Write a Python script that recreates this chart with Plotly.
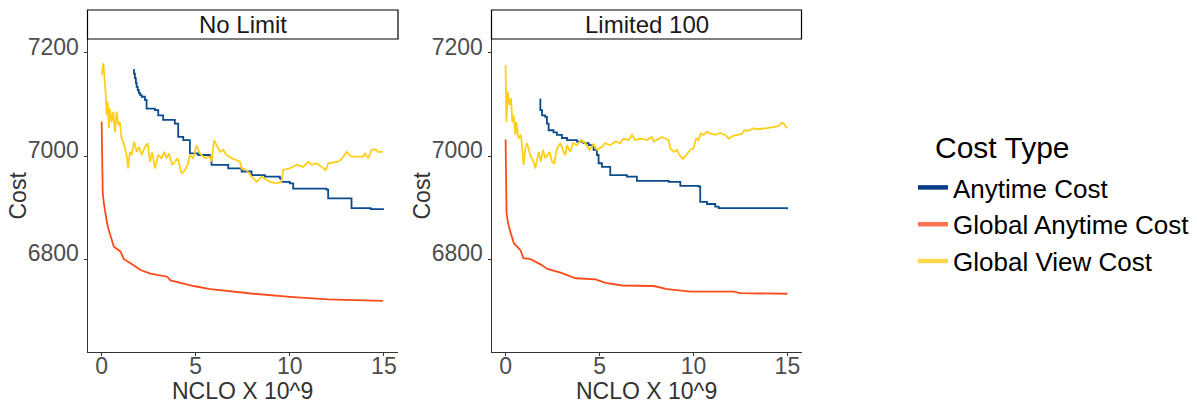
import plotly.graph_objects as go
from plotly.subplots import make_subplots

# ---------------- data ----------------
# Panel "No Limit"
nl_any_x = [1.68, 1.72, 1.77, 1.82, 1.86, 1.92, 1.98, 2.05, 2.13, 2.30, 2.39, 2.83, 3.01, 3.27, 3.89,
            4.07, 4.34, 4.69, 5.13, 5.75, 5.84, 6.73, 7.44, 7.97, 8.68, 9.47, 9.56, 10.00, 10.18,
            11.95, 12.04, 13.28, 14.30, 15.00]
nl_any_y = [7167, 7160, 7151, 7142, 7134, 7128, 7122, 7118, 7115, 7109, 7092, 7089, 7079, 7070, 7063,
            7037, 7031, 7005, 7002, 6999, 6983, 6976, 6970, 6963, 6960, 6957, 6950, 6947, 6937,
            6935, 6918, 6899, 6897, 6897]

nl_glob_x = [0.00, 0.01, 0.03, 0.06, 0.12, 0.20, 0.30, 0.40, 0.48, 0.65, 1.00, 1.18, 1.54, 2.07, 2.60,
             3.48, 3.66, 4.19, 4.89, 5.78, 7.01, 8.07, 10.02, 12.05, 14.96]
nl_glob_y = [7067, 7006, 6954, 6929, 6908, 6888, 6868, 6854, 6843, 6824, 6815, 6800, 6792, 6779, 6772,
             6766, 6759, 6754, 6748, 6742, 6737, 6733, 6727, 6722, 6719]

nl_view_x = [0.00, 0.09, 0.14, 0.21, 0.27, 0.32, 0.39, 0.44, 0.53, 0.62, 0.71, 0.80, 0.88, 0.97, 1.06,
             1.15, 1.24, 1.33, 1.41, 1.50, 1.59, 1.73, 1.86, 1.98, 2.13, 2.26, 2.44, 2.57, 2.69, 2.83,
             3.01, 3.19, 3.33, 3.45, 3.58, 3.75, 3.89, 4.04, 4.25, 4.43, 4.57, 4.69, 4.87, 5.05, 5.22,
             5.49, 5.75, 5.84, 5.98, 6.11, 6.29, 6.46, 6.64, 6.91, 7.17, 7.35, 7.44, 7.70, 7.97, 8.24,
             8.50, 8.77, 8.94, 9.30, 9.56, 9.65, 10.00, 10.36, 10.71, 10.98, 11.16, 11.42, 11.69, 11.92,
             12.04, 12.57, 12.75, 13.02, 13.28, 13.90, 13.99, 14.17, 14.35, 14.57, 14.70, 14.96]
nl_view_y = [7157, 7180, 7157, 7125, 7079, 7105, 7054, 7092, 7066, 7086, 7047, 7086, 7060, 7066, 7034,
             7028, 7015, 7002, 6976, 7008, 7002, 7028, 7008, 7018, 7002, 7015, 7025, 6989, 7008, 6976,
             7002, 6996, 7008, 6996, 7005, 6983, 6989, 6996, 6966, 6973, 6983, 7002, 6996, 7021, 7005,
             6996, 6999, 6989, 7031, 7021, 7008, 7012, 7002, 6996, 6992, 6989, 6976, 6973, 6960, 6950,
             6960, 6953, 6950, 6947, 6950, 6973, 6976, 6983, 6979, 6989, 6983, 6986, 6979, 6973,
             6986, 6989, 6994, 7008, 6999, 6999, 7005, 6996, 7012, 7013, 7008, 7008]

# Panel "Limited 100"
l1_any_x = [1.81, 1.85, 1.94, 2.11, 2.20, 2.29, 2.55, 2.73, 3.00, 3.27, 3.80, 4.15, 4.42, 4.68, 4.86,
            4.95, 5.13, 5.57, 6.46, 6.99, 8.68, 9.30, 10.27, 10.36, 10.72, 11.16, 11.34, 14.98]
l1_any_y = [7110, 7089, 7079, 7076, 7063, 7050, 7046, 7041, 7035, 7031, 7028, 7025, 7021, 7012, 7002,
            6986, 6979, 6963, 6960, 6952, 6950, 6942, 6941, 6911, 6907, 6902, 6899, 6897]

l1_glob_x = [0.00, 0.01, 0.03, 0.05, 0.12, 0.20, 0.27, 0.44, 0.80, 0.94, 1.33, 1.86, 2.22, 2.93, 3.73,
             4.79, 5.32, 6.21, 7.89, 8.60, 9.84, 12.15, 12.50, 15.00]
l1_glob_y = [7032, 6996, 6953, 6890, 6872, 6860, 6851, 6831, 6817, 6802, 6800, 6790, 6781, 6774, 6763,
             6761, 6754, 6749, 6748, 6742, 6737, 6737, 6734, 6733]

l1_view_x = [0.00, 0.01, 0.04, 0.11, 0.21, 0.29, 0.36, 0.43, 0.52, 0.57, 0.69, 0.82, 0.96, 1.05, 1.14,
             1.31, 1.49, 1.58, 1.76, 1.88, 1.99, 2.11, 2.34, 2.47, 2.59, 2.74, 2.91, 3.09, 3.18, 3.27,
             3.44, 3.59, 3.80, 4.01, 4.24, 4.47, 4.68, 4.86, 5.13, 5.31, 5.57, 5.84, 6.10, 6.28, 6.55,
             6.73, 6.90, 7.17, 7.53, 7.79, 7.88, 8.32, 8.67, 8.77, 8.94, 9.12, 9.26, 9.44, 9.65, 9.83,
             10.00, 10.14, 10.27, 10.40, 10.54, 10.72, 10.89, 11.16, 11.43, 11.69, 11.87, 12.10, 12.58,
             12.70, 12.93, 13.20, 13.38, 13.91, 14.53, 14.71, 14.80, 14.98]
l1_view_y = [7176, 7118, 7066, 7125, 7099, 7112, 7066, 7079, 7041, 7066, 7034, 7041, 6983, 7015, 7025,
             7002, 6989, 6976, 7008, 6989, 7012, 6996, 7008, 6989, 6986, 7015, 7025, 7008, 7002, 7021,
             7008, 7025, 7021, 7031, 7025, 7012, 7023, 7012, 7018, 7025, 7021, 7028, 7025, 7034, 7031,
             7041, 7031, 7034, 7031, 7037, 7028, 7037, 7031, 7015, 7008, 7012, 7002, 6994, 7005, 7012,
             7015, 7034, 7031, 7044, 7041, 7047, 7044, 7041, 7045, 7041, 7034, 7039, 7043,
             7050, 7049, 7054, 7052, 7054, 7058, 7065, 7063, 7054]

series_names = ["Anytime Cost", "Global Anytime Cost", "Global View Cost"]
series_colors = ["#0A4A8F", "#FF4A1C", "#FFCF1A"]
legend_colors = ["#053E86", "#FF7350", "#FFD84D"]
panel_titles = ["No Limit", "Limited 100"]
x_ticks = [0, 5, 10, 15]
y_ticks = [6800, 7000, 7200]

panels = [
    [(nl_any_x, nl_any_y), (nl_glob_x, nl_glob_y), (nl_view_x, nl_view_y)],
    [(l1_any_x, l1_any_y), (l1_glob_x, l1_glob_y), (l1_view_x, l1_view_y)],
]

W, H = 1197, 404
FONT = "Liberation Sans, Arial, sans-serif"

fig = make_subplots(rows=1, cols=2)

for p, data in enumerate(panels):
    for s, (xs, ys) in enumerate(data):
        shape = "hv" if s == 0 else "linear"
        fig.add_trace(go.Scatter(x=xs, y=ys, mode="lines", name=series_names[s],
                                 line=dict(color=series_colors[s], width=1.8, shape=shape),
                                 showlegend=False, hoverinfo="skip"),
                      row=1, col=p + 1)

# legend-only entries with thicker swatches
for s in range(3):
    fig.add_trace(go.Scatter(x=[None], y=[None], mode="lines", name=series_names[s],
                             line=dict(color=legend_colors[s], width=4.5), showlegend=True),
                  row=1, col=1)

# panel domains (pixels -> paper)
px_domains = [(87.5, 398), (491.5, 801.5)]
y_top, y_bot = 39, 352
ydom = [1 - y_bot / H, 1 - y_top / H]

axis_common = dict(showgrid=False, zeroline=False, showline=True, linecolor="#333333", linewidth=1,
                   ticks="outside", ticklen=3, tickcolor="#333333", automargin=False,
                   tickfont=dict(family=FONT, size=23, color="#4D4D4D"))

for i, (a, b) in enumerate(px_domains):
    xa = "xaxis" if i == 0 else "xaxis2"
    ya = "yaxis" if i == 0 else "yaxis2"
    fig.layout[xa].update(domain=[a / W, b / W], range=[-0.75, 15.75], tickvals=x_ticks,
                          ticklabelstandoff=-10, **axis_common)
    fig.layout[ya].update(domain=ydom, range=[6620, 7227], tickvals=y_ticks,
                          ticklabelshift=-6, **axis_common)
    # strip
    fig.add_shape(type="rect", xref="paper", yref="paper",
                  x0=a / W, x1=b / W, y0=1 - 39 / H, y1=1 - 10 / H,
                  line=dict(color="black", width=1.2), fillcolor="white")
    fig.add_annotation(xref="paper", yref="paper", x=(a + b) / 2 / W, y=1 - 24.5 / H,
                       text=panel_titles[i], showarrow=False,
                       font=dict(family=FONT, size=24, color="#1A1A1A"),
                       xanchor="center", yanchor="middle")
    # axis titles
    fig.add_annotation(xref="paper", yref="paper", x=(a + b) / 2 / W, y=1 - 391 / H,
                       text="NCLO X 10^9", showarrow=False,
                       font=dict(family=FONT, size=23, color="#333333"),
                       xanchor="center", yanchor="middle")
    fig.add_annotation(xref="paper", yref="paper", x=(a - 70) / W, y=1 - 196 / H,
                       text="Cost", showarrow=False, textangle=-90,
                       font=dict(family=FONT, size=23, color="#333333"),
                       xanchor="center", yanchor="middle")

# legend title
fig.add_annotation(xref="paper", yref="paper", x=933 / W, y=1 - 147 / H,
                   text="Cost Type", showarrow=False,
                   font=dict(family=FONT, size=30, color="black"),
                   xanchor="left", yanchor="middle")

fig.update_layout(
    width=W, height=H,
    margin=dict(l=0, r=0, t=0, b=0, autoexpand=False),
    paper_bgcolor="white", plot_bgcolor="white",
    font=dict(family=FONT),
    legend=dict(x=913 / W, y=1 - 164 / H, xanchor="left", yanchor="top",
                font=dict(family=FONT, size=26, color="black"),
                bgcolor="rgba(0,0,0,0)"),
)

fig.write_html("out.html", config={"displayModeBar": False},
               post_script="document.body.style.margin='0';")
